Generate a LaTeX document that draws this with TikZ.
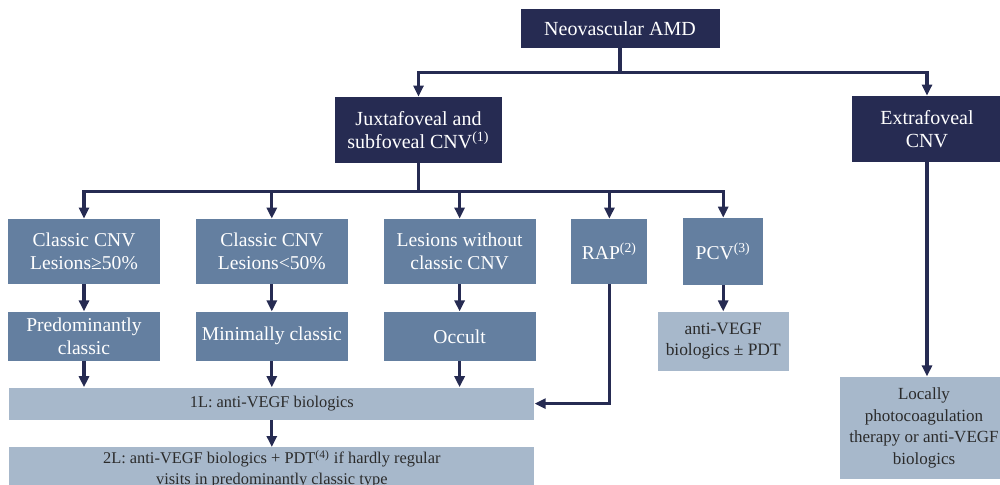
\documentclass[tikz,border=0pt]{standalone}
\usepackage{fontspec}
\setmainfont{Liberation Serif}
\usetikzlibrary{positioning, arrows.meta}
\definecolor{navy}{HTML}{262B52}
\definecolor{steel}{HTML}{647FA0}
\definecolor{pale}{HTML}{A7B8CB}
\definecolor{ink}{HTML}{2B2B2B}

\begin{document}
\begin{tikzpicture}[x=1pt, y=1pt, node distance={13.5pt and 17.5pt},
    dark/.style = {fill=navy, text=white, inner sep=0pt, align=center, font=\fontsize{10}{11.5}\selectfont},
    mid/.style = {fill=steel, text=white, inner sep=0pt, align=center, minimum width=76pt, minimum height=32.5pt, font=\fontsize{9.8}{11.7}\selectfont},
    light/.style = {fill=pale, text=ink, inner sep=0pt, align=center, font=\fontsize{8.7}{10.8}\selectfont},
    arr/.style = {draw=navy, line width=1.6pt, -{Triangle[width=5pt, length=5.5pt]}}]
    \useasboundingbox (0,0) rectangle (500,-242);

    \node[dark, minimum width=99.5pt, minimum height=19.5pt] (amd) at (310,-14.25) {Neovascular AMD};
    \node[dark, minimum width=83.5pt, minimum height=33pt] (juxta) at (209.25,-65) {Juxtafoveal and\\subfoveal CNV\textsuperscript{(1)}};
    \node[dark, minimum width=75pt, minimum height=33pt] (extra) at (463.5,-64.5) {Extrafoveal\\CNV};

    \node[mid] (cl1) at (42,-125.75) {Classic CNV\\Lesions≥50\%};
    \node[mid] (cl2) [right=of cl1] {Classic CNV\\Lesions<50\%};
    \node[mid] (les) [right=of cl2] {Lesions without\\classic CNV};
    \node[mid, minimum width=38pt] (rap) [right=of les] {RAP\textsuperscript{(2)}};
    \node[mid, minimum width=40pt, minimum height=33.5pt] (pcv) [right=of rap] {PCV\textsuperscript{(3)}};

    \node[mid, minimum height=24.5pt] (pred) [below=of cl1] {Predominantly\\classic};
    \node[mid, minimum height=24.5pt] (mini) [below=of cl2] {Minimally classic};
    \node[mid, minimum height=24.5pt] (occ) [below=of les] {Occult};
    \node[light, minimum width=65.5pt, minimum height=29.5pt] (pcvtx) [below=13pt of pcv] {anti-VEGF\\biologics ± PDT};

    \node[light, minimum width=262.5pt, minimum height=16pt, font=\fontsize{8.2}{10.5}\selectfont] (first) [below=13pt of mini] {1L: anti-VEGF biologics};
    \node[light, minimum width=262.5pt, minimum height=22pt, font=\fontsize{8.2}{10.5}\selectfont] (second) [below=of first] {2L: anti-VEGF biologics + PDT\textsuperscript{(4)} if hardly regular\\visits in predominantly classic type};
    \node[light, minimum width=84pt, minimum height=51pt, font=\fontsize{8.5}{10.8}\selectfont] (local) [below=107pt of extra, xshift=-1.5pt] {Locally\\photocoagulation\\therapy or anti-VEGF\\biologics};

    \draw[arr] (amd.south) -- ++(0,-12) -| (juxta.north);
    \draw[arr] (amd.south) -- ++(0,-12) -| (extra.north);

    \draw[arr] (juxta.south) -- ++(0,-14) -| (cl1.north);
    \draw[arr] (juxta.south) -- ++(0,-14) -| (cl2.north);
    \draw[arr] (juxta.south) -- ++(0,-14) -| (les.north);
    \draw[arr] (juxta.south) -- ++(0,-14) -| (rap.north);
    \draw[arr] (juxta.south) -- ++(0,-14) -| (pcv.north);

    \draw[arr] (cl1) -- (pred);
    \draw[arr] (cl2) -- (mini);
    \draw[arr] (les) -- (occ);
    \draw[arr] (pcv) -- (pcvtx);

    \draw[arr] (pred.south) -- (pred.south |- first.north);
    \draw[arr] (mini.south) -- (mini.south |- first.north);
    \draw[arr] (occ.south) -- (occ.south |- first.north);
    \draw[arr] (rap.south) |- (first.east);

    \draw[arr] (first) -- (second);
    \draw[arr] (extra.south) -- (extra.south |- local.north);
\end{tikzpicture}
\end{document}
